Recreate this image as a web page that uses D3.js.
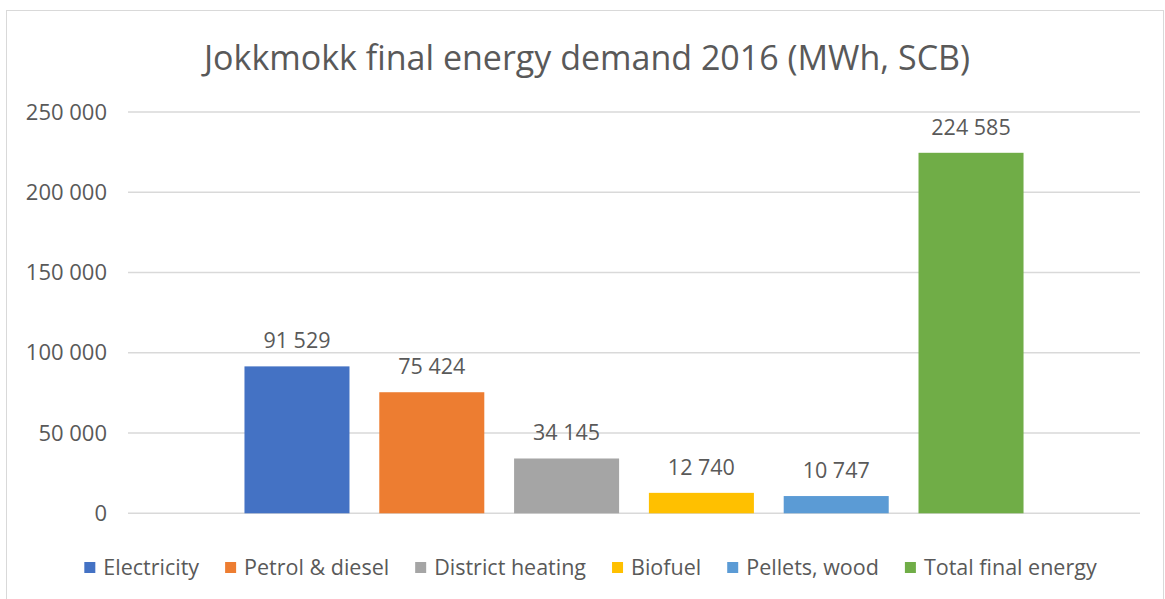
<!DOCTYPE html>
<html>
<head>
<meta charset="utf-8">
<script src="https://cdn.jsdelivr.net/npm/d3@7"></script>
<style>
  html, body { margin: 0; padding: 0; background: #fff; }
  svg { display: block; font-family: "Open Sans", sans-serif; }
</style>
</head>
<body>
<svg id="chart" width="1165" height="599"></svg>
<script>
const title = "Jokkmokk final energy demand 2016 (MWh, SCB)";
const categories = ["Electricity", "Petrol & diesel", "District heating", "Biofuel", "Pellets, wood", "Total final energy"];
const values = [91529, 75424, 34145, 12740, 10747, 224585];
const colors = ["#4472C4", "#ED7D31", "#A5A5A5", "#FFC000", "#5B9BD5", "#70AD47"];
const yTicks = [0, 50000, 100000, 150000, 200000, 250000];

const W = 1165, H = 599;
const svg = d3.select("#chart");
const textColor = "#595959";
const fmt = v => d3.format(",")(v).replace(/,/g, " ");

// chart border
svg.append("rect").attr("x", 6.5).attr("y", 10.5).attr("width", 1157).attr("height", 600)
  .attr("fill", "#fff").attr("stroke", "#d9d9d9").attr("stroke-width", 1);

const plot = { left: 128, right: 1140, top: 112, bottom: 513.3 };

const x = d3.scaleBand().domain(categories).range([plot.left, plot.right])
  .paddingInner(0.221).paddingOuter(0.864);
const y = d3.scaleLinear().domain([0, 250000]).range([plot.bottom, plot.top]);

// gridlines
svg.append("g").selectAll("line").data(yTicks).join("line")
  .attr("x1", plot.left).attr("x2", plot.right)
  .attr("y1", d => y(d)).attr("y2", d => y(d))
  .attr("stroke", "#d9d9d9").attr("stroke-width", 1.5);

// y axis labels
const yAxis = d3.axisLeft(y).tickValues(yTicks).tickFormat(fmt).tickSize(0).tickPadding(21);
const ga = svg.append("g").attr("transform", `translate(${plot.left},0)`).call(yAxis);
ga.select(".domain").remove();
ga.selectAll("text").attr("fill", textColor).style("font-size", "22px").style("font-family", "Open Sans");

// bars
svg.append("g").selectAll("rect").data(categories).join("rect")
  .attr("x", d => x(d)).attr("width", x.bandwidth())
  .attr("y", (d, i) => y(values[i])).attr("height", (d, i) => y(0) - y(values[i]))
  .attr("fill", (d, i) => colors[i]);

// data labels
svg.append("g").selectAll("text").data(categories).join("text")
  .attr("x", d => x(d) + x.bandwidth() / 2)
  .attr("y", (d, i) => y(values[i]) - 18)
  .attr("text-anchor", "middle").attr("fill", textColor)
  .style("font-size", "21.5px")
  .text((d, i) => fmt(values[i]));

// title
svg.append("text").attr("x", 587).attr("y", 70).attr("text-anchor", "middle")
  .attr("fill", textColor).style("font-size", "34px").text(title);

// legend
const lg = svg.append("g");
let cx = 0;
const gap = 26;
categories.forEach((c, i) => {
  const g = lg.append("g").attr("transform", `translate(${cx},0)`);
  g.append("rect").attr("x", 0).attr("y", -5.5).attr("width", 11).attr("height", 11).attr("fill", colors[i]);
  const t = g.append("text").attr("x", 19).attr("y", 0).attr("dy", "0.35em")
    .attr("fill", textColor).style("font-size", "21.5px").text(c);
  const w = t.node().getComputedTextLength();
  cx += 19 + w + gap;
});
const total = cx - gap;
lg.attr("transform", `translate(${590.5 - total / 2},567.5)`);
</script>
</body>
</html>
